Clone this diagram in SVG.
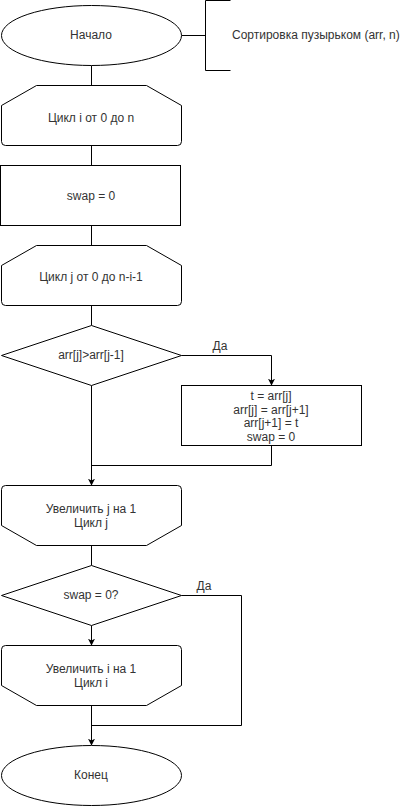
<svg xmlns="http://www.w3.org/2000/svg" width="401" height="806" viewBox="0 0 401 806">
<style>
.s{fill:#fff;stroke:#000;stroke-width:1}
.c{fill:none;stroke:#000;stroke-width:1}
text{font-family:"Liberation Sans",Arial,sans-serif;font-size:12px;fill:#333;text-anchor:middle;dominant-baseline:central}
.l{text-anchor:start}
</style>
<defs>
<marker id="a" viewBox="0 0 10 10" refX="9" refY="5" markerWidth="7" markerHeight="7" markerUnits="userSpaceOnUse" orient="auto">
<path d="M0,0 L10,5 L0,10 L2.5,5 Z" fill="#000"/>
</marker>
</defs>
<g id="connectors">
<path class="c" d="M91.5,65.5 V85.5"/>
<path class="c" d="M91.5,145.5 V165.5"/>
<path class="c" d="M91.5,225.5 V245.5"/>
<path class="c" d="M91.5,305.5 V325.5"/>
<path class="c" d="M181.5,355.5 H271.5 V385" marker-end="url(#a)"/>
<path class="c" d="M91.5,385.5 V485" marker-end="url(#a)"/>
<path class="c" d="M271.5,445.5 V465.5 H91.5"/>
<path class="c" d="M91.5,545.5 V565.5"/>
<path class="c" d="M91.5,625.5 V645" marker-end="url(#a)"/>
<path class="c" d="M181.5,595.5 H241.5 V725.5 H91.5"/>
<path class="c" d="M91.5,705.5 V745" marker-end="url(#a)"/>
<path class="c" d="M181.5,35.5 H205.5"/>
<text x="220" y="346">Да</text>
<text x="204" y="586">Да</text>
</g>
<g id="start">
<ellipse class="s" cx="91.5" cy="35.5" rx="90" ry="30"/>
<text x="91" y="35">Начало</text>
</g>
<g id="annotation">
<path class="c" d="M230.5,0.5 H205.5 V70.5 H230.5"/>
<text class="l" x="232" y="35">Сортировка пузырьком (arr, n)</text>
</g>
<g id="loop-i">
<path class="s" d="M1.5,141.5 V105.5 L36.5,85.5 H146.5 L181.5,105.5 V141.5 Q181.5,145.5 177.5,145.5 H5.5 Q1.5,145.5 1.5,141.5 Z"/>
<text x="91" y="118">Цикл i от 0 до n</text>
</g>
<g id="swap0">
<rect class="s" x="0.5" y="165.5" width="180" height="60"/>
<text x="91" y="196">swap = 0</text>
</g>
<g id="loop-j">
<path class="s" d="M1.5,301.5 V265.5 L36.5,245.5 H146.5 L181.5,265.5 V301.5 Q181.5,305.5 177.5,305.5 H5.5 Q1.5,305.5 1.5,301.5 Z"/>
<text x="91" y="277">Цикл j от 0 до n-i-1</text>
</g>
<g id="cond1">
<path class="s" d="M91.5,325.5 L181.5,355.5 L91.5,385.5 L1.5,355.5 Z"/>
<text x="91" y="355">arr[j]&gt;arr[j-1]</text>
</g>
<g id="swapblock">
<rect class="s" x="181.5" y="385.5" width="180" height="60"/>
<text x="271" y="396">t = arr[j]</text>
<text x="271" y="409.5">arr[j] = arr[j+1]</text>
<text x="271" y="423">arr[j+1] = t</text>
<text x="271" y="436.5">swap = 0</text>
</g>
<g id="inc-j">
<path class="s" d="M1.5,489.5 Q1.5,485.5 5.5,485.5 H177.5 Q181.5,485.5 181.5,489.5 V525.5 L146.5,545.5 H36.5 L1.5,525.5 Z"/>
<text x="91" y="509">Увеличить j на 1</text>
<text x="91" y="523">Цикл j</text>
</g>
<g id="cond2">
<path class="s" d="M91.5,565.5 L181.5,595.5 L91.5,625.5 L1.5,595.5 Z"/>
<text x="91" y="595">swap = 0?</text>
</g>
<g id="inc-i">
<path class="s" d="M1.5,649.5 Q1.5,645.5 5.5,645.5 H177.5 Q181.5,645.5 181.5,649.5 V685.5 L146.5,705.5 H36.5 L1.5,685.5 Z"/>
<text x="91" y="669">Увеличить i на 1</text>
<text x="91" y="683">Цикл i</text>
</g>
<g id="end">
<ellipse class="s" cx="91.5" cy="775.5" rx="90" ry="30"/>
<text x="91" y="775">Конец</text>
</g>
</svg>
